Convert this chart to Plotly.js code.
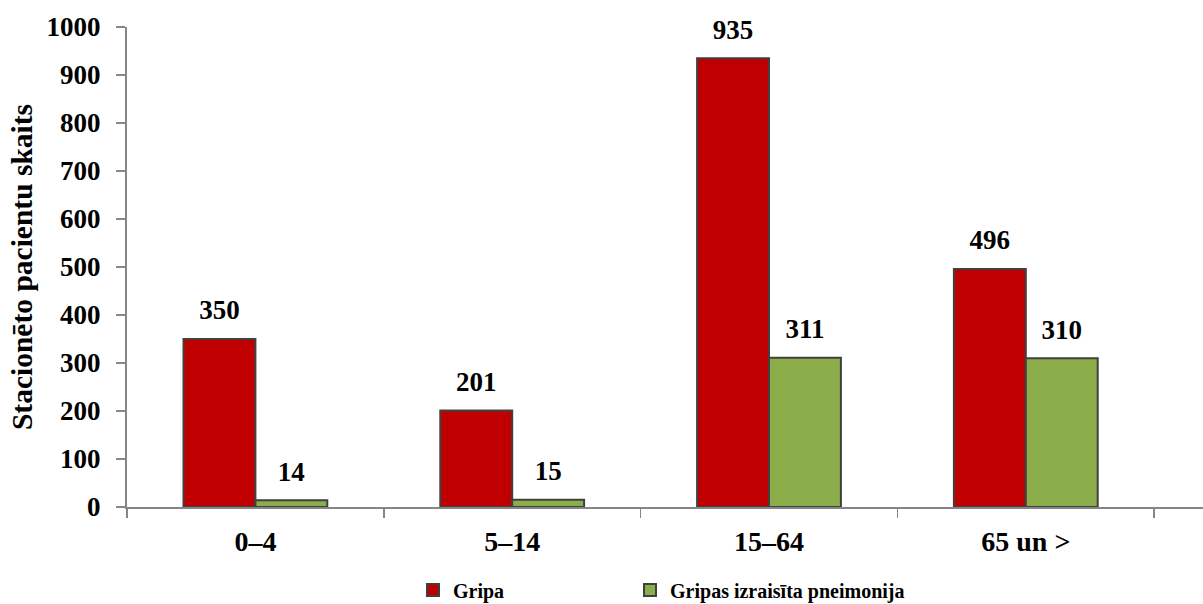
<!DOCTYPE html>
<html>
<head>
<meta charset="utf-8">
<script src="https://cdn.plot.ly/plotly-3.0.1.min.js"></script>
<style>html,body{margin:0;padding:0;background:#fff;}#chart{width:1203px;height:604px;}</style>
</head>
<body>
<div id="chart"></div>
<script>
const categories = ["0–4", "5–14", "15–64", "65 un >"];
const gripa = [350, 201, 935, 496];
const pneimonija = [14, 15, 311, 310];
const seriesNames = ["Gripa", "Gripas izraisīta pneimonija"];
const yTicks = [0, 100, 200, 300, 400, 500, 600, 700, 800, 900, 1000];

const FONT = "'Liberation Serif', 'Times New Roman', serif";
const numFont = {family: FONT, size: 27, color: "#000", weight: "bold"};
const catFont = {family: FONT, size: 28, color: "#000", weight: "bold"};
const legendFont = {family: FONT, size: 20, color: "#000", weight: "bold"};
const GAP = 0.44;

function barTrace(name, values, color, group, legendId) {
  return {
    type: "bar", name: name, x: categories, y: values, offsetgroup: group,
    legend: legendId,
    marker: {color: color, line: {color: "#404040", width: 2}},
    hoverinfo: "skip"
  };
}
function labelTrace(values, group) {
  return {
    type: "scatter", mode: "markers+text", x: categories, y: values, offsetgroup: group,
    text: values.map(String), textposition: "top center", textfont: numFont,
    marker: {size: 19, opacity: 0, color: "#fff"}, cliponaxis: false,
    showlegend: false, hoverinfo: "skip"
  };
}

const traces = [
  barTrace(seriesNames[0], gripa, "#C00000", "a", "legend"),
  barTrace(seriesNames[1], pneimonija, "#8BAD4A", "b", "legend2"),
  labelTrace(gripa, "a"),
  labelTrace(pneimonija, "b")
];

const legendBase = {
  orientation: "h", xanchor: "left", y: -0.173, yanchor: "middle",
  font: legendFont, itemwidth: 30, bgcolor: "rgba(0,0,0,0)"
};

const layout = {
  width: 1203, height: 604,
  margin: {l: 127, r: 0, t: 27, b: 97, autoexpand: false},
  paper_bgcolor: "#fff", plot_bgcolor: "#fff",
  barmode: "group", bargap: GAP, bargroupgap: 0,
  scattermode: "group", scattergap: GAP,
  showlegend: true,
  legend: Object.assign({}, legendBase, {x: 0.2658}),
  legend2: Object.assign({}, legendBase, {x: 0.4675}),
  font: {family: FONT, color: "#000"},
  xaxis: {
    type: "category", range: [-0.5, 3.69],
    showline: true, linecolor: "#868686", linewidth: 2,
    ticks: "outside", tickson: "boundaries", ticklen: 9, tickcolor: "#868686", tickwidth: 1.5,
    tickfont: catFont, ticklabelstandoff: 8,
    showgrid: false, zeroline: false, fixedrange: true
  },
  yaxis: {
    range: [0, 1000], tickvals: yTicks, ticktext: yTicks.map(String),
    showline: true, linecolor: "#868686", linewidth: 2,
    ticks: "outside", ticklen: 9, tickcolor: "#868686", tickwidth: 1.5,
    tickfont: numFont, ticklabelstandoff: 10,
    showgrid: false, zeroline: false, fixedrange: true,
    title: {text: "Stacionēto pacientu skaits", font: {family: FONT, size: 29.5, color: "#000", weight: "bold"}, standoff: 5}
  }
};

Plotly.newPlot("chart", traces, layout, {staticPlot: true, displayModeBar: false});
</script>
</body>
</html>
